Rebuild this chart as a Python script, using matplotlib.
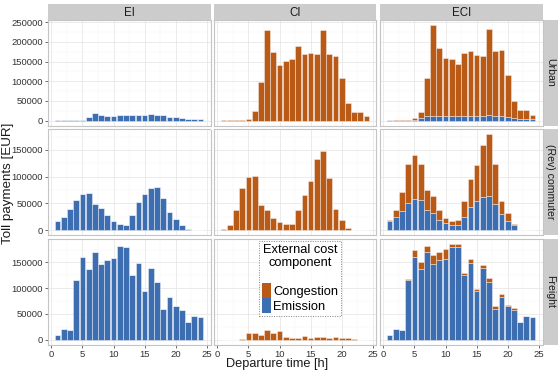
import matplotlib
matplotlib.use('Agg')
import matplotlib.pyplot as plt
from matplotlib.patches import Patch
from matplotlib.ticker import MultipleLocator, FuncFormatter
import matplotlib.font_manager as fm

# ---------------- data ----------------
hours = list(range(1, 25))
columns = ['EI', 'CI', 'ECI']
rows = ['Urban', '(Rev) commuter', 'Freight']
components = ['Congestion', 'Emission']

# EI scenario: emission tolls only
ei_urban = [800, 800, 800, 800, 2500, 10000, 19500, 14400, 11900, 11900, 13500, 14400,
            13500, 13500, 14400, 17000, 15200, 13500, 10000, 8500, 5900, 5000, 5000, 3400]
ei_commuter = [16800, 25500, 39200, 56000, 68500, 70400, 49200, 41700, 28000, 18000, 12500, 9300,
               28000, 52300, 67200, 79700, 80300, 59800, 33600, 21800, 10000, 1900, 600, 0]
ei_freight = [9700, 20000, 18100, 115800, 159800, 137200, 170800, 147500, 155300, 157900, 181800, 180500,
              126200, 148200, 94500, 139800, 112000, 59500, 82800, 65300, 57600, 34900, 46600, 44600]

# CI scenario: congestion tolls only
ci_urban = [2500, 800, 800, 1000, 4000, 25000, 97000, 229000, 175000, 140000, 152000, 157000,
            189000, 168000, 172000, 168000, 229000, 168000, 163000, 108000, 44000, 23000, 23000, 13000]
ci_commuter = [3100, 10000, 38000, 79000, 99000, 101500, 48000, 38600, 22400, 14900, 11800, 11200,
               37400, 66600, 92800, 133000, 147500, 97000, 40500, 18700, 3700, 1200, 0, 0]
ci_freight = [0, 0, 300, 1300, 13600, 12300, 9700, 18800, 13600, 17500, 4500, 3900,
              2600, 7800, 3200, 5800, 5200, 3900, 5800, 2600, 2600, 600, 0, 0]

# ECI scenario: emission + congestion
eci_urban_em = [800, 400, 400, 500, 2500, 8000, 12000, 12000, 11000, 11000, 12000, 12000,
                12000, 12000, 12000, 13000, 14000, 13000, 11000, 9000, 6000, 5000, 5000, 3400]
eci_urban_cg = [1700, 400, 400, 1000, 3500, 15000, 96000, 231000, 174000, 148000, 144000, 131000,
                160000, 164000, 155000, 150000, 218000, 163000, 169000, 107000, 44000, 23000, 21000, 10600]
eci_commuter_em = [17400, 24900, 35500, 50400, 57900, 56000, 38000, 32400, 19300, 13100, 9300, 9300,
                   24900, 43600, 54800, 62300, 64100, 48600, 30500, 18000, 10600, 1000, 0, 0]
eci_commuter_cg = [2500, 12500, 36700, 74100, 82100, 68500, 37300, 31100, 18100, 10600, 8100, 9400,
                   30500, 51700, 67200, 97100, 115200, 74700, 23700, 13800, 600, 200, 0, 0]
eci_freight_em = [9700, 20000, 18100, 115800, 159800, 136500, 170800, 147500, 154600, 157200, 180500, 179900,
                  126200, 148200, 94500, 139800, 112000, 59500, 82800, 65300, 57600, 34900, 46600, 44600]
eci_freight_cg = [0, 0, 0, 2600, 14200, 14900, 10400, 17500, 15600, 19400, 5800, 6400,
                  2500, 9000, 4500, 5800, 7000, 5200, 6500, 2600, 3900, 0, 0, 0]

zeros = [0] * 24
panel_data = {
    ('Urban', 'EI'): (ei_urban, zeros),
    ('Urban', 'CI'): (zeros, ci_urban),
    ('Urban', 'ECI'): (eci_urban_em, eci_urban_cg),
    ('(Rev) commuter', 'EI'): (ei_commuter, zeros),
    ('(Rev) commuter', 'CI'): (zeros, ci_commuter),
    ('(Rev) commuter', 'ECI'): (eci_commuter_em, eci_commuter_cg),
    ('Freight', 'EI'): (ei_freight, zeros),
    ('Freight', 'CI'): (zeros, ci_freight),
    ('Freight', 'ECI'): (eci_freight_em, eci_freight_cg),
}
tick_step = 50000

# ---------------- style ----------------
def has_font(name):
    try:
        fm.findfont(fm.FontProperties(family=name), fallback_to_default=False)
        return True
    except Exception:
        return False

narrow = 'Liberation Sans Narrow' if has_font('Liberation Sans Narrow') else 'Liberation Sans'
regular = 'Liberation Sans'
plt.rcParams['font.family'] = [narrow, 'DejaVu Sans']

col_cong = '#B95B17'
col_emis = '#3D6EB2'
grid_major = '#E8E8E8'
grid_minor = '#F4F4F4'
border = '#C4C4C4'
strip_fill = '#CCCCCC'
text_col = '#1A1A1A'
tick_col = '#333333'

W, H = 560, 374
fig = plt.figure(figsize=(W / 100, H / 100), dpi=100)

col_left = [48, 214, 380]
pw = 162.5
row_top = [20, 129.5, 239]
ph = 105.5

def fig_rect(l, t, w, h):
    return [l / W, 1 - (t + h) / H, w / W, h / H]

for ri, rname in enumerate(rows):
    ymax = max(max(e + c for e, c in zip(*panel_data[(rname, cn)])) for cn in columns)
    for ci, cname in enumerate(columns):
        ax = fig.add_axes(fig_rect(col_left[ci], row_top[ri], pw, ph))
        em, cg = panel_data[(rname, cname)]
        ax.bar(hours, em, width=0.92, color=col_emis, edgecolor=(1, 1, 1, 0.45), linewidth=0.6, zorder=3)
        ax.bar(hours, cg, bottom=em, width=0.92, color=col_cong, edgecolor=(1, 1, 1, 0.45), linewidth=0.6, zorder=3)
        ax.set_xlim(-0.55, 25.6)
        ax.set_ylim(-0.05 * ymax, 1.05 * ymax)
        ax.xaxis.set_major_locator(MultipleLocator(5))
        ax.xaxis.set_minor_locator(MultipleLocator(2.5))
        ax.yaxis.set_major_locator(MultipleLocator(tick_step))
        ax.yaxis.set_minor_locator(MultipleLocator(tick_step / 2))
        ax.grid(which='major', color=grid_major, linewidth=0.6, zorder=0)
        ax.grid(which='minor', color=grid_minor, linewidth=0.35, zorder=0)
        ax.set_axisbelow(True)
        for sp in ax.spines.values():
            sp.set_color(border)
            sp.set_linewidth(0.8)
        ax.tick_params(which='minor', length=0)
        ax.tick_params(which='major', length=2.5, width=0.6, color='#555555',
                       labelsize=6.8, labelcolor=tick_col, pad=1.2)
        ax.yaxis.set_major_formatter(FuncFormatter(lambda v, p: f'{int(round(v))}'))
        if ci != 0:
            ax.tick_params(left=False, labelleft=False)
        if ri != 2:
            ax.tick_params(bottom=False, labelbottom=False)

        if ri == 0:
            sax = fig.add_axes(fig_rect(col_left[ci], 4, pw, 16))
            sax.set_xticks([]); sax.set_yticks([])
            sax.set_facecolor(strip_fill)
            for sp in sax.spines.values():
                sp.set_visible(False)
            sax.text(0.5, 0.45, cname, ha='center', va='center', fontsize=8.3, color=text_col,
                     transform=sax.transAxes)
        if ci == 2:
            rax = fig.add_axes(fig_rect(543.5, row_top[ri], 14.5, ph))
            rax.set_xticks([]); rax.set_yticks([])
            rax.set_facecolor(strip_fill)
            for sp in rax.spines.values():
                sp.set_visible(False)
            rax.text(0.45, 0.5, rname, ha='center', va='center', rotation=-90, fontsize=7.6,
                     color=text_col, family=[regular, 'DejaVu Sans'], transform=rax.transAxes)

        if ri == 2 and ci == 1:
            handles = [Patch(facecolor=col_cong, edgecolor='none', label=components[0]),
                       Patch(facecolor=col_emis, edgecolor='none', label=components[1])]
            leg = ax.legend(handles=handles, title='External cost\ncomponent\n', loc='upper left',
                            bbox_to_anchor=((259 - col_left[1]) / pw, 1 - (241 - row_top[2]) / ph),
                            borderaxespad=0, frameon=True, fontsize=9.3, title_fontsize=9.3,
                            handlelength=0.7, handleheight=1.4, handletextpad=0.2,
                            labelspacing=0.0, borderpad=0.2, fancybox=False)
            leg.get_title().set_multialignment('center')
            leg._legend_box.align = 'center'
            fr = leg.get_frame()
            fr.set_linestyle((0, (1, 1.5)))
            fr.set_edgecolor('#666666')
            fr.set_linewidth(0.7)
            fr.set_facecolor('white')
            leg.set_zorder(10)

fig.text(277 / W, 1 - 364 / H, 'Departure time [h]', ha='center', va='center', fontsize=9.2, color=text_col)
fig.text(8 / W, 1 - 183 / H, 'Toll payments [EUR]', ha='center', va='center', rotation=90,
         fontsize=9.6, color=text_col, family=[regular, 'DejaVu Sans'])

fig.savefig('out.png', dpi=100, facecolor='white')
